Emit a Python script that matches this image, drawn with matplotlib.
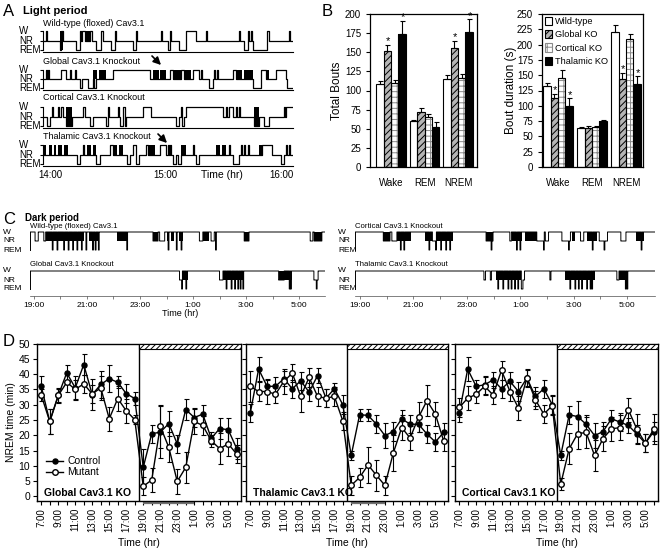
import numpy as np
import matplotlib
matplotlib.use('Agg')
import matplotlib.pyplot as plt
import matplotlib.transforms as mtransforms
from matplotlib.patches import Rectangle, Patch, FancyArrowPatch
from matplotlib.lines import Line2D

plt.rcParams['font.family'] = ['Liberation Sans', 'DejaVu Sans']
plt.rcParams['hatch.linewidth'] = 0.7

W_PX, H_PX = 662, 550

# ---------------- data ----------------
# panel A: light period hypnograms, minutes after 14:00, state 2=W 1=NR 0=REM
wt_light_t = [-3.4, -2.2, -1.7, 5.2, 6.0, 6.9, 13.4, 15.5, 16.2, 16.9, 18.3, 21.0, 21.6, 24.1, 26.7,
              27.6, 31.9, 33.6, 34.3, 43.1, 44.8, 45.4, 57.8, 58.4, 61.2, 62.1, 62.7, 67.2, 70.7,
              75.9, 81.0, 81.6, 98.3, 98.9, 100.9, 102.6, 103.2, 104.3, 105.0, 105.5, 112.5, 112.9,
              113.6, 124.1, 124.7]
wt_light_s = [1, 2, 1, 0, 2, 1, 0, 2, 1, 2, 1, 2, 1, 0, 2, 1, 0, 2, 1, 0, 2, 1, 2, 1, 0, 2, 1, 0, 2,
              1, 2, 1, 2, 1, 0, 2, 1, 2, 1, 0, 1, 2, 1, 2, 1]
wt_light_blocks = [(5.2, 6.9, 0, 2), (18.3, 20.7, 1, 2)]

glob_light_t = [-3.4, -2.2, -1.7, -1.2, -0.6, 6.0, 8.6, 10.3, 11.0, 12.9, 13.4, 15.5, 16.9, 19.8,
                22.4, 23.0, 23.8, 32.8, 51.7, 62.1, 63.8, 68.1, 69.8, 74.1, 77.6, 78.4, 79.0, 82.8,
                84.5, 85.3, 85.8, 86.5, 87.1, 94.8, 96.5, 105.2, 109.5, 112.1, 117.2, 122.4, 123.3]
glob_light_s = [1, 2, 1, 2, 1, 2, 1, 2, 1, 2, 1, 0, 1, 0, 1, 0, 1, 2, 1, 2, 1, 2, 1, 2, 1, 2, 1, 0,
                1, 2, 1, 2, 1, 2, 1, 0, 2, 1, 2, 1, 0]
glob_light_blocks = [(-2.2, -0.6, 1, 2), (22.4, 24.6, 1, 2), (25.6, 29.3, 1, 2), (53.4, 56.6, 1, 2),
                     (57.4, 60.3, 1, 2), (63.8, 68.1, 1, 2), (69.8, 73.3, 1, 2), (96.5, 99.5, 1, 2),
                     (100.6, 105.2, 1, 2), (112.1, 113.8, 1, 2)]

cort_light_t = [-3.4, -1.7, 0.0, 0.9, 1.4, 4.3, 4.8, 6.0, 6.6, 8.6, 11.2, 17.2, 18.1, 20.7, 22.4,
                29.3, 30.2, 30.7, 35.3, 35.8, 36.2, 37.9, 38.8, 39.7, 48.3, 52.6, 65.5, 67.2, 68.1,
                68.6, 69.8, 70.7, 89.6, 91.4, 92.0, 93.0, 94.8, 96.5, 97.0, 98.3, 98.8, 106.0, 108.6,
                111.2, 113.8, 121.5, 122.0, 122.4]
cort_light_s = [1, 0, 1, 2, 1, 2, 1, 2, 1, 0, 1, 2, 1, 0, 1, 0, 2, 1, 2, 1, 0, 2, 0, 1, 2, 1, 0, 1,
                2, 0, 1, 2, 1, 2, 1, 2, 1, 2, 1, 2, 1, 0, 1, 0, 1, 2, 1, 2]
cort_light_blocks = [(8.6, 11.2, 0, 2), (106.0, 108.6, 0, 2)]

thal_light_t = [-3.4, 13.8, 15.5, 17.0, 17.5, 24.1, 25.9, 31.0, 32.8, 40.0, 41.5, 43.1, 44.8, 46.5,
                50.0, 50.9, 56.9, 60.3, 61.2, 61.8, 62.5, 63.1, 63.8, 65.5, 66.5, 68.1, 74.1, 75.0,
                75.9, 77.6, 93.1, 93.6, 94.8, 98.3, 99.0, 99.5, 101.0, 101.5, 103.0, 103.5, 110.3,
                115.5, 119.8, 121.5, 122.5, 123.0, 124.0, 124.5]
thal_light_s = [1, 0, 1, 2, 1, 0, 1, 2, 1, 0, 1, 2, 0, 1, 2, 1, 2, 1, 2, 1, 2, 1, 0, 1, 0, 1, 2, 1,
                0, 1, 2, 1, 0, 1, 2, 1, 2, 1, 2, 1, 2, 1, 0, 1, 2, 1, 2, 1]
thal_light_blocks = [(-3.4, -1.8, 1, 2), (-0.6, 1.2, 1, 2), (2.0, 3.4, 1, 2), (4.4, 6.2, 1, 2),
                     (7.2, 9.6, 1, 2), (19.0, 21.2, 1, 2), (22.2, 24.1, 1, 2), (32.8, 35.0, 1, 2),
                     (36.0, 37.9, 1, 2), (50.9, 54.3, 1, 2), (68.1, 70.7, 1, 2), (86.2, 88.2, 1, 2),
                     (89.2, 91.4, 1, 2), (108.6, 110.3, 1, 2)]

# panel C: dark period hypnograms, hours after 19:00 (W baseline)
wt_dark_nr = [(0.04, 0.16), (0.37, 0.44), (4.49, 4.68), (4.74, 4.93), (6.24, 6.37), (6.68, 6.80),
              (7.93, 8.11), (10.42, 10.52), (10.57, 10.86)]
wt_dark_blocks = [(0.44, 0.69), (0.72, 1.29), (1.31, 1.87), (2.06, 2.43), (3.12, 3.50), (4.49, 4.68),
                  (5.0, 5.06), (5.18, 5.30), (5.49, 5.62), (6.37, 6.62), (7.93, 8.11), (10.57, 10.86)]
wt_dark_rem = [0.69, 0.87, 1.12, 1.29, 1.46, 1.62, 1.79, 1.96, 2.21, 2.31, 2.43, 3.50, 5.06, 5.37,
               5.55, 6.85]

glob_dark_nr = [(5.49, 5.57), (7.0, 7.13), (9.23, 9.44), (10.56, 10.72)]
glob_dark_blocks = [(5.57, 5.82), (7.13, 7.94), (9.23, 9.75)]
glob_dark_rem = [5.57, 5.73, 7.25, 7.44, 7.57, 7.69, 7.78, 7.88, 9.63, 9.68, 10.65]

cort_dark_nr = [(0.87, 1.12), (1.19, 1.38), (2.71, 2.83), (4.72, 4.98), (5.61, 5.67), (6.62, 6.87),
                (6.94, 7.06), (7.56, 7.88), (8.26, 8.38), (8.96, 9.27), (9.77, 9.96)]
cort_dark_blocks = [(0.87, 1.12), (1.38, 1.89), (2.45, 2.71), (2.83, 3.47), (4.72, 4.98),
                    (5.71, 6.05), (6.18, 6.62), (7.94, 8.07), (8.51, 8.89), (10.34, 10.65)]
cort_dark_rem = [1.51, 1.64, 2.58, 2.83, 3.02, 3.21, 3.36, 4.91, 5.86, 5.99, 6.87, 7.81, 8.70, 9.14,
                 10.53]

thal_dark_nr = [(4.64, 4.70), (4.88, 4.92), (6.10, 6.16), (7.11, 7.15), (9.62, 9.70)]
thal_dark_blocks = [(5.09, 6.04), (7.67, 8.81), (9.70, 9.94)]
thal_dark_rem = [5.16, 5.35, 5.54, 5.66, 5.79, 5.91, 6.04, 6.07, 7.86, 8.05, 8.18, 8.30, 8.49, 8.62,
                 8.68, 9.94, 10.0]

# panel B
states_b = ['Wake', 'REM', 'NREM']
geno_labels = ['Wild-type', 'Global KO', 'Cortical KO', 'Thalamic KO']
bouts_wt, bouts_wt_err = [108, 60, 115], [5, 2, 5]
bouts_glob, bouts_glob_err = [152, 72, 155], [8, 5, 10]
bouts_cort, bouts_cort_err = [110, 66, 116], [4, 3, 6]
bouts_thal, bouts_thal_err = [174, 52, 177], [17, 7, 16]
dur_wt, dur_wt_err = [132, 64, 221], [6, 1.5, 11]
dur_glob, dur_glob_err = [113, 63, 143], [6, 4, 11]
dur_cort, dur_cort_err = [145, 65, 209], [14, 2, 8]
dur_thal, dur_thal_err = [100, 75, 136], [12, 1.5, 12]
bouts_star = [(1, 0), (3, 0), (1, 2), (3, 2)]
dur_star = [(1, 0), (3, 0), (1, 2), (3, 2)]

# panel D: NREM time per hour, 7:00 ... 6:00
hours_d = ['7:00', '8:00', '9:00', '10:00', '11:00', '12:00', '13:00', '14:00', '15:00', '16:00',
           '17:00', '18:00', '19:00', '20:00', '21:00', '22:00', '23:00', '0:00', '1:00', '2:00',
           '3:00', '4:00', '5:00', '6:00']
glob_ctrl = [36, 24.5, 33, 40.4, 35.5, 43.1, 33.3, 36.6, 38.5, 37.3, 33.6, 32, 9.5, 20.5, 21, 23.8,
             17.2, 28.4, 25.8, 26.9, 19, 22.2, 21.8, 15.6]
glob_ctrl_err = [3.5, 4, 2.5, 2.5, 4, 3.5, 5, 4.5, 4.5, 2, 3, 2, 6, 3, 8.5, 4, 3, 3.5, 3, 3, 2, 3.5,
                 4, 3.5]
glob_mut = [33.1, 24.5, 33, 37.3, 35, 36.8, 33.5, 35.5, 25.4, 32, 28, 25.1, 3.3, 5.4, 22.9, 16.1, 4.9,
            9.5, 24.5, 23.2, 18.2, 15.6, 17.2, 13.8]
glob_mut_err = [2, 4, 2, 3, 3, 3, 3, 4, 4, 4, 4, 1.5, 3, 4, 7, 5, 4, 5, 4, 3, 2, 5, 4, 3]

thal_ctrl = [27.2, 41.6, 36.0, 36.0, 38.5, 35.2, 37.8, 34.1, 39.5, 32.1, 35.2, 30.0, 13.4, 26.7, 26.5,
             23.6, 19.9, 21.2, 25.4, 23.6, 23.6, 20.4, 17.8, 21.0]
thal_ctrl_err = [3, 4, 2, 3, 2.5, 3, 3, 3, 2.5, 3, 2, 3, 1.5, 2, 2, 3, 4, 3, 3, 3, 2.5, 3, 3, 3]
thal_mut = [36.0, 34.3, 34.3, 33.4, 37.6, 40.3, 32.7, 38.9, 32.7, 32.1, 32.7, 24.7, 3.6, 6.2, 10.3,
            6.9, 3.6, 14.2, 22.5, 19.1, 25.9, 31.3, 26.9, 18.0]
thal_mut_err = [5, 3, 4, 3, 4, 3, 5, 3, 3, 3, 3, 3, 3, 3, 6, 5, 3, 6, 4, 4, 5, 5, 4, 3]

cort_ctrl = [27.2, 41.6, 36.0, 36.5, 38.1, 35.2, 37.6, 34.3, 38.7, 32.7, 35.2, 30.0, 13.4, 26.7, 26.1,
             23.6, 19.9, 21.2, 25.4, 24.3, 23.2, 20.4, 17.4, 21.2]
cort_ctrl_err = [3, 4, 2, 3, 2.5, 3, 3, 3, 2.5, 3, 3, 3, 1.5, 3, 5, 3, 4, 3, 3, 3, 2.5, 3, 3, 3]
cort_mut = [29.1, 32.1, 33.4, 36.0, 33.2, 41.2, 34.3, 28.9, 38.7, 31.6, 26.9, 29.7, 4.0, 15.6, 20.5,
            20.9, 13.4, 18.9, 22.1, 22.5, 28.3, 22.0, 17.4, 22.0]
cort_mut_err = [3, 4, 3, 3, 3, 3, 3, 4, 3, 3, 3, 3, 2, 5, 5, 5, 5, 4, 4, 4, 4, 5, 3, 5]


fig = plt.figure(figsize=(6.62, 5.5), dpi=100)


def box(x0, y0, x1, y1):
    return [x0 / W_PX, 1 - y1 / H_PX, (x1 - x0) / W_PX, (y1 - y0) / H_PX]


def ftext(x, y, s, **kw):
    fig.text(x / W_PX, 1 - y / H_PX, s, **kw)


def state_labels(ax, xpx, size):
    trans = mtransforms.blended_transform_factory(fig.transFigure, ax.transData)
    for lev, lab in zip([2, 1, 0], ['W', 'NR', 'REM']):
        ax.text(xpx / W_PX, lev, lab, transform=trans, ha='left', va='center', fontsize=size)


# ---------------- A ----------------
ftext(3, 11, 'A', fontsize=12, va='center')
ftext(23, 11, 'Light period', fontsize=8, fontweight='bold', va='center')

rows_a = [('Wild-type (floxed) Cav3.1', wt_light_t, wt_light_s, wt_light_blocks, 31, 50, 24),
          ('Global Cav3.1 Knockout', glob_light_t, glob_light_s, glob_light_blocks, 70, 88, 61),
          ('Cortical Cav3.1 Knockout', cort_light_t, cort_light_s, cort_light_blocks, 107, 126, 98),
          ('Thalamic Cav3.1 Knockout', thal_light_t, thal_light_s, thal_light_blocks, 145, 164, 137)]
a_end = 125.9
for k, (title, tt, ss, blocks, wy, ry, ty) in enumerate(rows_a):
    ax = fig.add_axes(box(43, wy - 1.2, 293, ry + 1.5))
    ax.step(list(tt) + [a_end], list(ss) + [ss[-1]], where='post', color='k', lw=0.9)
    for (a, b, lo, hi) in blocks:
        ax.fill_between([a, b], lo, hi, color='k', lw=0)
    ax.set_xlim(-3.6, 126.2)
    ax.set_ylim(-0.15, 2.12)
    ax.spines['top'].set_visible(False)
    ax.spines['right'].set_visible(False)
    ax.spines['left'].set_bounds(0, 2)
    ax.set_yticks([0, 1, 2])
    ax.set_yticklabels([])
    ax.tick_params(axis='y', length=2, width=0.8)
    state_labels(ax, 19, 7)
    ftext(43, ty, title, fontsize=6.5, ha='left', va='center')
    if k == 3:
        ax.set_xticks([0, 60, 120])
        ax.set_xticklabels(['14:00', '15:00', '16:00'], fontsize=7)
        ax.tick_params(axis='x', length=0, pad=3)
    else:
        ax.set_xticks([])
ftext(222, 175, 'Time (hr)', fontsize=7.5, ha='center', va='center')

# arrows marking fragmented bouts
for (xa, ya, xb, yb) in [(152, 56, 161, 65), (158, 134, 167, 143)]:
    fig.add_artist(FancyArrowPatch((xa / W_PX, 1 - ya / H_PX), (xb / W_PX, 1 - yb / H_PX),
                                   transform=fig.transFigure, arrowstyle='-|>,head_length=0.5,head_width=0.25',
                                   mutation_scale=9, color='k', lw=1.2, shrinkA=0, shrinkB=0))

# ---------------- B ----------------
ftext(322, 11, 'B', fontsize=12, va='center')
bar_styles = [dict(face='white', hatch=None, hcol='k'),
              dict(face='#b5b5b5', hatch='/////', hcol='k'),
              dict(face='white', hatch='+++', hcol='#8a8a8a'),
              dict(face='k', hatch=None, hcol='k')]


def bar_chart(ax, means, errs, stars, ymax, ylab):
    xg = np.arange(3)
    bw = 0.22
    for j, (m, e, st) in enumerate(zip(means, errs, bar_styles)):
        xs = xg + (j - 1.5) * bw
        ax.bar(xs, m, bw, color=st['face'], edgecolor=st['hcol'], hatch=st['hatch'], lw=0, zorder=2)
        ax.bar(xs, m, bw, fill=False, edgecolor='k', lw=0.8, zorder=3)
        ax.errorbar(xs, m, yerr=[np.zeros(3), e], fmt='none', ecolor='k', elinewidth=0.8,
                    capsize=1.8, capthick=0.8, zorder=4)
    for (j, g) in stars:
        ax.text(g + (j - 1.5) * bw + 0.02, means[j][g] + errs[j][g] - 2, '*', ha='center', va='bottom',
                fontsize=8)
    ax.set_ylim(0, ymax)
    ax.set_yticks(np.arange(0, ymax + 1, 25))
    ax.tick_params(axis='y', labelsize=7, length=3, width=0.8)
    ax.set_xticks(xg)
    ax.set_xticklabels(states_b, fontsize=7)
    ax.tick_params(axis='x', length=0, pad=8)
    ax.set_ylabel(ylab, fontsize=8.5)
    for sp in ax.spines.values():
        sp.set_linewidth(0.9)


axb1 = fig.add_axes(box(370, 14, 477, 167))
bar_chart(axb1, [bouts_wt, bouts_glob, bouts_cort, bouts_thal],
          [bouts_wt_err, bouts_glob_err, bouts_cort_err, bouts_thal_err], bouts_star, 200, 'Total Bouts')
axb1.set_xlim(-0.63, 2.57)
axb1.yaxis.set_label_coords(-0.25, 0.5)

axb2 = fig.add_axes(box(542, 14, 643, 167))
bar_chart(axb2, [dur_wt, dur_glob, dur_cort, dur_thal],
          [dur_wt_err, dur_glob_err, dur_cort_err, dur_thal_err], dur_star, 250, 'Bout duration (s)')
axb2.set_xlim(-0.47, 2.5)
axb2.yaxis.set_label_coords(-0.25, 0.5)
handles = [Patch(facecolor=st['face'], edgecolor=st['hcol'] if st['hatch'] else 'k', hatch=st['hatch'],
                 lw=0.8) for st in bar_styles]
axb2.legend(handles, geno_labels, loc='upper left', frameon=False, fontsize=6.6, handlelength=0.8,
            handleheight=1.0, labelspacing=0.45, handletextpad=0.35, borderaxespad=0.15,
            borderpad=0.15)

# ---------------- C ----------------
ftext(3, 219, 'C', fontsize=12, va='center')
ftext(25, 218, 'Dark period', fontsize=7, fontweight='bold', va='center')

rows_c = [('Wild-type (floxed) Cav3.1', wt_dark_nr, wt_dark_blocks, wt_dark_rem, 0, 232, 250, 226),
          ('Global Cav3.1 Knockout', glob_dark_nr, glob_dark_blocks, glob_dark_rem, 0, 271, 289, 265),
          ('Cortical Cav3.1 Knockout', cort_dark_nr, cort_dark_blocks, cort_dark_rem, 1, 232, 250, 226),
          ('Thalamic Cav3.1 Knockout', thal_dark_nr, thal_dark_blocks, thal_dark_rem, 1, 271, 289, 265)]
col_x = [(30, 325, -0.15, 10.98, 3), (355, 655, -0.19, 11.05, 338)]
for title, nr, blocks, rem, col, wy, ry, ty in rows_c:
    x0, x1, t0, t1, labx = col_x[col]
    bottom_row = wy > 260
    ybot = ry + 7 if bottom_row else ry + 0.6
    unit = (ry - wy) / 2.0
    ax = fig.add_axes(box(x0, wy - 0.6, x1, ybot))
    ax.set_xlim(t0, t1)
    ax.set_ylim(-(ybot - ry) / unit, 2 + 0.6 / unit)
    tg = np.linspace(t0, t1, 6000)
    st = np.full(tg.shape, 2.0)
    for (a, b) in nr:
        st[(tg >= a) & (tg < b)] = 1
    for r in rem:
        st[(tg >= r) & (tg < r + 0.03)] = 0
    ax.step(tg, st, where='post', color='k', lw=0.7)
    for (a, b) in blocks:
        ax.fill_between([a, b], 1, 2, color='k', lw=0)
    ax.spines['top'].set_visible(False)
    ax.spines['right'].set_visible(False)
    ax.spines['left'].set_bounds(0, 2)
    ax.spines['left'].set_linewidth(0.7)
    ax.set_yticks([])
    state_labels(ax, labx, 6)
    ftext(x0, ty, title, fontsize=5.6, ha='left', va='center')
    if bottom_row:
        ax.spines['bottom'].set_linewidth(0.5)
        ax.spines['bottom'].set_color('0.3')
        ax.set_xticks(np.arange(0, 11, 1))
        ax.set_xticklabels(['19:00', '', '21:00', '', '23:00', '', '1:00', '', '3:00', '', '5:00'],
                           fontsize=6)
        ax.tick_params(axis='x', length=2, width=0.5, pad=2, color='0.3')
    else:
        ax.spines['bottom'].set_visible(False)
        ax.set_xticks([])
ftext(180, 313, 'Time (hr)', fontsize=6.5, ha='center', va='center')

# ---------------- D ----------------
ftext(3, 342, 'D', fontsize=12, va='center')
panels_d = [('Global Cav3.1 KO', glob_ctrl, glob_ctrl_err, glob_mut, glob_mut_err, (37, 241), (12, 18)),
            ('Thalamic Cav3.1 KO', thal_ctrl, thal_ctrl_err, thal_mut, thal_mut_err, (246, 448), (12, 16)),
            ('Cortical Cav3.1 KO', cort_ctrl, cort_ctrl_err, cort_mut, cort_mut_err, (455, 658), None)]
xi = np.arange(len(hours_d))
for p, (title, c, ce, m, me, (x0, x1), uline) in enumerate(panels_d):
    ax = fig.add_axes(box(x0, 343.5, x1, 501))
    ax.set_xlim(-0.5, 23.5)
    ax.set_ylim(-1.5, 50)
    ax.axvline(11.5, color='k', lw=1)
    ax.add_patch(Rectangle((11.5, 48.1), 12, 1.9, facecolor='white', edgecolor='k', hatch='//////',
                           lw=0.8, zorder=5))
    ax.errorbar(xi, c, yerr=ce, fmt='-o', color='k', mfc='k', mec='k', ms=3.6, lw=1,
                elinewidth=0.8, capsize=1.8, capthick=0.8, zorder=3)
    ax.errorbar(xi, m, yerr=me, fmt='-o', color='k', mfc='white', mec='k', ms=4, lw=1,
                elinewidth=0.8, capsize=1.8, capthick=0.8, zorder=4)
    ax.set_xticks(xi)
    ax.set_xticklabels([h if i % 2 == 0 else '' for i, h in enumerate(hours_d)], rotation=90,
                       fontsize=7)
    ax.set_yticks(np.arange(0, 51, 5))
    ax.tick_params(axis='both', length=3, width=0.8, direction='out')
    ax.tick_params(axis='x', pad=2)
    for sp in ax.spines.values():
        sp.set_linewidth(1.0)
    if p == 0:
        ax.tick_params(axis='y', labelsize=7.5, pad=2)
        ax.set_ylabel('NREM time (min)', fontsize=7.5, labelpad=2)
        ax.legend([Line2D([], [], color='k', marker='o', mfc='k', ms=3.6, lw=1),
                   Line2D([], [], color='k', marker='o', mfc='white', ms=4, lw=1)],
                  ['Control', 'Mutant'], loc='lower left', bbox_to_anchor=(0.0, 0.09),
                  frameon=False, fontsize=7.5, handlelength=1.6, labelspacing=0.1,
                  handletextpad=0.4)
    else:
        ax.set_yticklabels([])
    ax.text(0.035, 0.02, title, transform=ax.transAxes, fontsize=7.5, fontweight='bold',
            ha='left', va='bottom')
    if uline:
        tr = mtransforms.blended_transform_factory(ax.transData, ax.transAxes)
        ax.plot(uline, [-0.014, -0.014], transform=tr, color='0.45', lw=1.6, clip_on=False,
                solid_capstyle='butt')
    ftext(x0 + (x1 - x0) * 12 / 24, 543, 'Time (hr)', fontsize=7.5, ha='center', va='center')

fig.savefig('out.png', dpi=100)
